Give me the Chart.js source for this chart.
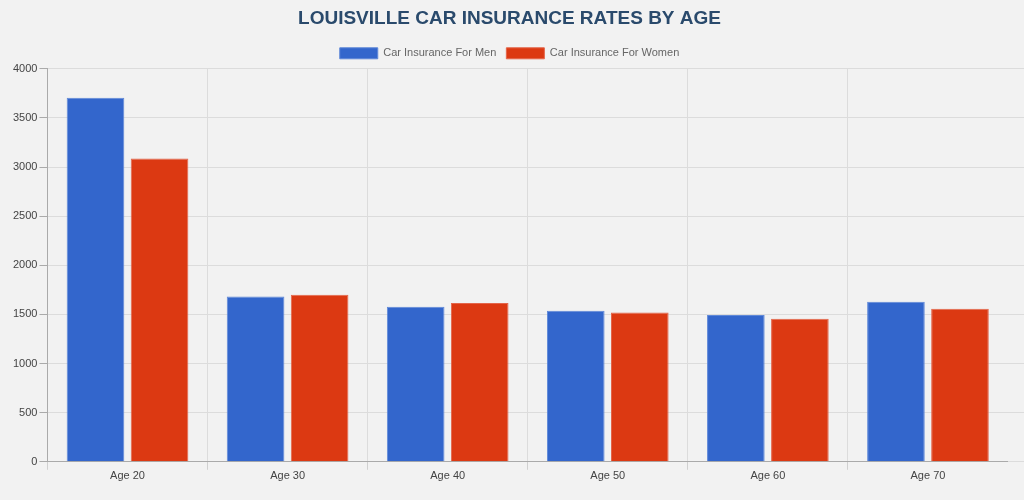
<!DOCTYPE html>
<html>
<head>
<meta charset="utf-8">
<script src="https://cdn.jsdelivr.net/npm/chart.js@4.4.1/dist/chart.umd.min.js"></script>
<style>
  html, body { margin: 0; padding: 0; background: #f2f2f2; }
  #wrap { width: 1024px; height: 500px; position: relative; }
</style>
</head>
<body>
<div id="wrap"><canvas id="c"></canvas></div>
<script>
const categories = ['Age 20', 'Age 30', 'Age 40', 'Age 50', 'Age 60', 'Age 70'];
const menRates = [3705, 1682, 1578, 1537, 1493, 1630];
const womenRates = [3087, 1700, 1616, 1520, 1455, 1557];
const seriesNames = ['Car Insurance For Men', 'Car Insurance For Women'];
const chartTitle = 'LOUISVILLE CAR INSURANCE RATES BY AGE';

const FONT = "Arial, 'Liberation Sans', sans-serif";

// extend horizontal grid lines to the right edge of the canvas (as in the reference)
const extendGrid = {
  id: 'extendGrid',
  beforeDatasetsDraw(chart) {
    const y = chart.scales.y, ctx = chart.ctx;
    ctx.save();
    ctx.strokeStyle = '#dcdcdc';
    ctx.lineWidth = 1;
    y.ticks.forEach(t => {
      const p = y.getPixelForValue(t.value);
      const py = Math.round(p - 0.5) + 0.5;
      ctx.beginPath();
      ctx.moveTo(chart.chartArea.right, py);
      ctx.lineTo(chart.width, py);
      ctx.stroke();
    });
    ctx.restore();
  }
};

new Chart(document.getElementById('c'), {
  type: 'bar',
  data: {
    labels: categories,
    datasets: [
      { label: seriesNames[0], data: menRates, backgroundColor: '#3366cc', borderColor: '#5f88d8', borderWidth: 1 },
      { label: seriesNames[1], data: womenRates, backgroundColor: '#dc3912', borderColor: '#e4654a', borderWidth: 1 }
    ]
  },
  options: {
    responsive: true,
    maintainAspectRatio: false,
    animation: false,
    layout: { padding: { left: 11, right: 16, top: 0, bottom: 17 } },
    plugins: {
      title: {
        display: true,
        text: chartTitle,
        color: '#2a4a6c',
        font: { family: FONT, size: 19, weight: 'bold' },
        padding: { top: 7, bottom: 8 }
      },
      legend: {
        position: 'top',
        labels: {
          color: '#666',
          font: { family: FONT, size: 11 },
          boxWidth: 38,
          boxHeight: 11,
          padding: 10
        }
      },
      tooltip: { enabled: false }
    },
    scales: {
      x: {
        grid: {
          color: (ctx) => ctx.tick ? '#dcdcdc' : 'rgba(0,0,0,0)',
          tickColor: (ctx) => ctx.tick ? '#d0d0d0' : 'rgba(0,0,0,0)',
          tickLength: 8,
          offset: true
        },
        border: { color: '#aaa' },
        ticks: { color: '#444', font: { family: FONT, size: 11 }, padding: 0 }
      },
      y: {
        min: 0,
        max: 4000,
        grid: { color: '#dcdcdc', tickColor: '#aaa', tickLength: 8 },
        border: { color: '#aaa' },
        ticks: {
          stepSize: 500, color: '#444', font: { family: FONT, size: 11 }, padding: 2,
          callback: (v) => String(v)
        }
      }
    }
  },
  plugins: [extendGrid]
});
</script>
</body>
</html>
